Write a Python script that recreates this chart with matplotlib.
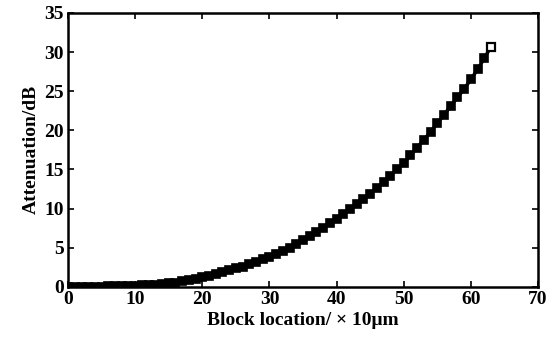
import matplotlib
matplotlib.use("Agg")
import matplotlib.pyplot as plt

# block location (x10 um) and attenuation (dB)
location = list(range(0, 64))
attenuation = [0.0, 0.0, 0.0, 0.0, 0.0, 0.0, 0.05, 0.05, 0.1, 0.1,
               0.15, 0.2, 0.25, 0.3, 0.35, 0.45, 0.55, 0.7, 0.85, 1.0,
               1.2, 1.4, 1.6, 1.85, 2.1, 2.35, 2.6, 2.9, 3.2, 3.5,
               3.85, 4.2, 4.6, 5.0, 5.5, 6.0, 6.5, 7.0, 7.5, 8.1,
               8.7, 9.3, 9.9, 10.6, 11.2, 11.9, 12.6, 13.4, 14.2, 15.0,
               15.8, 16.8, 17.8, 18.8, 19.8, 20.9, 22.0, 23.1, 24.2, 25.3,
               26.5, 27.8, 29.2, 30.7]

xticks = [0, 10, 20, 30, 40, 50, 60, 70]
yticks = [0, 5, 10, 15, 20, 25, 30, 35]

fig = plt.figure(figsize=(5.49, 3.49), dpi=100)
ax = fig.add_axes([0.124, 0.178, 0.856, 0.785])

ax.plot(location, attenuation, color="black", linewidth=2.5)
ax.plot(location, attenuation, "s", color="black", markersize=6,
        markerfacecolor="black", markeredgewidth=1.2)
ax.plot(location[-1], attenuation[-1], "s", color="black", markersize=6,
        markerfacecolor="white", markeredgewidth=1.6)

ax.set_xlim(0, 70)
ax.set_ylim(0, 35)
ax.set_xticks(xticks)
ax.set_yticks(yticks)
ax.tick_params(direction="in", length=4, width=1.2, top=True, right=True,
               labelsize=14, pad=3)
for lbl in ax.get_xticklabels() + ax.get_yticklabels():
    lbl.set_fontfamily("Liberation Serif")
    lbl.set_fontweight("bold")
for s in ax.spines.values():
    s.set_linewidth(1.8)

ax.set_xlabel("Block location/ \u00d7 10\u03bcm", fontfamily="Liberation Serif",
              fontweight="bold", fontsize=14, labelpad=3)
ax.set_ylabel("Attenuation/dB", fontfamily="Liberation Serif",
              fontweight="bold", fontsize=14, labelpad=3)

fig.savefig("out.png", dpi=100)
